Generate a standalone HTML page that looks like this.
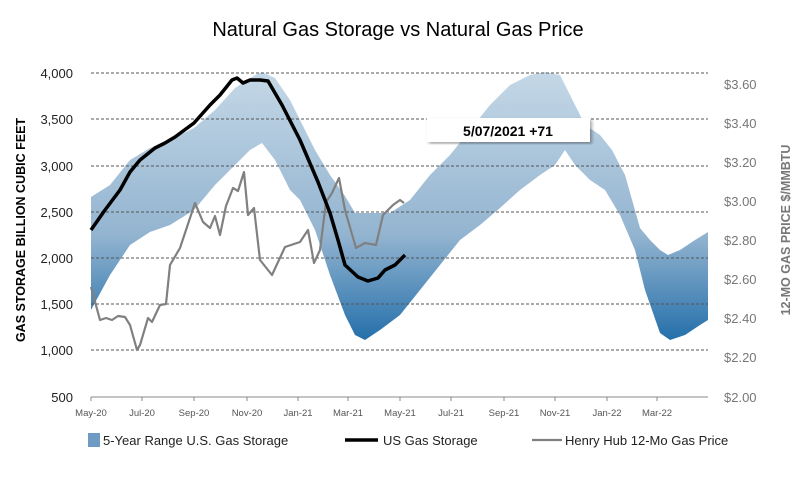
<!DOCTYPE html>
<html><head><style>
body{margin:0;background:#fff;}
svg text{font-family:"Liberation Sans",sans-serif;}
</style></head><body>
<svg width="796" height="473" viewBox="0 0 796 473" xmlns="http://www.w3.org/2000/svg">
<defs>
<linearGradient id="g" x1="0" y1="70" x2="0" y2="345" gradientUnits="userSpaceOnUse">
<stop offset="0" stop-color="#c5d8e7"/><stop offset="0.6" stop-color="#93b4d0"/><stop offset="1" stop-color="#1f6ca8"/>
</linearGradient>
<filter id="sh"><feDropShadow dx="2" dy="2" stdDeviation="1.5" flood-color="#000" flood-opacity="0.35"/></filter>
</defs>
<text x="398" y="36" text-anchor="middle" font-size="20" fill="#000">Natural Gas Storage vs Natural Gas Price</text>
<path fill="url(#g)" d="M91,197 L110,185 L130,160 L150,148 L170,140 L194,128 L215,110 L235,88 L255,75 L262,72 L275,78 L290,100 L300,120 L315,150 L330,175 L345,196 L355,213 L390,213 L410,200 L430,175 L450,155 L470,130 L490,105 L510,85 L530,75 L545,72 L560,75 L570,95 L585,125 L600,135 L612,150 L625,175 L640,228 L650,240 L660,250 L668,255 L680,250 L695,240 L708,232 L708,320 L700,325 L685,335 L670,340 L660,333 L645,290 L635,250 L620,215 L605,190 L590,180 L575,165 L565,150 L555,165 L540,175 L520,190 L500,208 L480,225 L460,240 L440,265 L420,290 L400,315 L380,330 L365,340 L355,335 L345,315 L330,275 L315,230 L300,200 L290,190 L275,160 L262,143 L250,150 L235,165 L215,185 L194,210 L170,225 L150,232 L130,245 L110,275 L91,310 Z"/>
<g stroke="#555" stroke-width="1" stroke-dasharray="3,2">
<line x1="91" x2="708" y1="73" y2="73"/><line x1="91" x2="708" y1="119" y2="119"/><line x1="91" x2="708" y1="166" y2="166"/><line x1="91" x2="708" y1="212" y2="212"/><line x1="91" x2="708" y1="258" y2="258"/><line x1="91" x2="708" y1="304" y2="304"/><line x1="91" x2="708" y1="350" y2="350"/>
</g>
<line x1="91" x2="708" y1="397" y2="397" stroke="#888"/>
<g stroke="#888"><line x1="91" x2="91" y1="397" y2="401"/><line x1="142" x2="142" y1="397" y2="401"/><line x1="194" x2="194" y1="397" y2="401"/><line x1="247" x2="247" y1="397" y2="401"/><line x1="298" x2="298" y1="397" y2="401"/><line x1="348" x2="348" y1="397" y2="401"/><line x1="400" x2="400" y1="397" y2="401"/><line x1="451" x2="451" y1="397" y2="401"/><line x1="504" x2="504" y1="397" y2="401"/><line x1="555" x2="555" y1="397" y2="401"/><line x1="607" x2="607" y1="397" y2="401"/><line x1="657" x2="657" y1="397" y2="401"/></g>
<polyline fill="none" stroke="#808080" stroke-width="2.2" stroke-linejoin="round" points="91,287 100,320 106,318 112,320 118,316 125,317 130,325 137,350 140,345 148,318 152,322 160,305 166,304 170,265 180,248 195,203 203,222 210,228 215,216 220,235 226,206 233,188 238,191 244,172 248,215 254,208 260,260 272,275 285,247 300,242 308,230 314,263 320,250 326,202 332,193 339,178 345,210 356,248 365,243 376,245 383,215 393,205 400,200 404,203"/>
<polyline fill="none" stroke="#000" stroke-width="3.5" stroke-linejoin="round" points="91,230 105,210 120,190 130,172 140,160 155,148 165,143 175,137 194,123 210,105 220,95 232,80 237,78 243,83 250,80 260,80 268,81 282,105 300,140 318,182 330,213 338,240 345,265 358,277 368,281 378,278 385,270 395,265 405,255"/>
<rect x="427" y="118" width="163" height="24" fill="#fff" filter="url(#sh)"/>
<text x="508" y="136" text-anchor="middle" font-size="14" font-weight="bold">5/07/2021  +71</text>
<g font-size="13" fill="#222" text-anchor="end">
<text x="73" y="78">4,000</text><text x="73" y="124">3,500</text><text x="73" y="171">3,000</text><text x="73" y="217">2,500</text><text x="73" y="263">2,000</text><text x="73" y="309">1,500</text><text x="73" y="355">1,000</text><text x="73" y="402">500</text>
</g>
<g font-size="13" fill="#777">
<text x="724" y="89">$3.60</text><text x="724" y="128">$3.40</text><text x="724" y="167">$3.20</text><text x="724" y="206">$3.00</text><text x="724" y="245">$2.80</text><text x="724" y="284">$2.60</text><text x="724" y="323">$2.40</text><text x="724" y="362">$2.20</text><text x="724" y="402">$2.00</text>
</g>
<g font-size="9.5" fill="#555" text-anchor="middle">
<text x="91" y="416">May-20</text><text x="142" y="416">Jul-20</text><text x="194" y="416">Sep-20</text><text x="247" y="416">Nov-20</text><text x="298" y="416">Jan-21</text><text x="348" y="416">Mar-21</text><text x="400" y="416">May-21</text><text x="451" y="416">Jul-21</text><text x="504" y="416">Sep-21</text><text x="555" y="416">Nov-21</text><text x="607" y="416">Jan-22</text><text x="657" y="416">Mar-22</text>
</g>
<text transform="translate(25,230) rotate(-90)" text-anchor="middle" font-size="12.5" font-weight="bold" fill="#000">GAS STORAGE BILLION CUBIC FEET</text>
<text transform="translate(790,230) rotate(-90)" text-anchor="middle" font-size="12.5" font-weight="bold" fill="#777">12-MO GAS PRICE $/MMBTU</text>
<rect x="88" y="433" width="12" height="14" fill="#6d9bc3"/>
<text x="103" y="445" font-size="13" fill="#222">5-Year Range U.S. Gas Storage</text>
<line x1="345" x2="378" y1="440" y2="440" stroke="#000" stroke-width="3.5"/>
<text x="383" y="445" font-size="13" fill="#222">US Gas Storage</text>
<line x1="532" x2="562" y1="440" y2="440" stroke="#808080" stroke-width="2.2"/>
<text x="565" y="445" font-size="13" fill="#222">Henry Hub 12-Mo Gas Price</text>
</svg>
</body></html>
